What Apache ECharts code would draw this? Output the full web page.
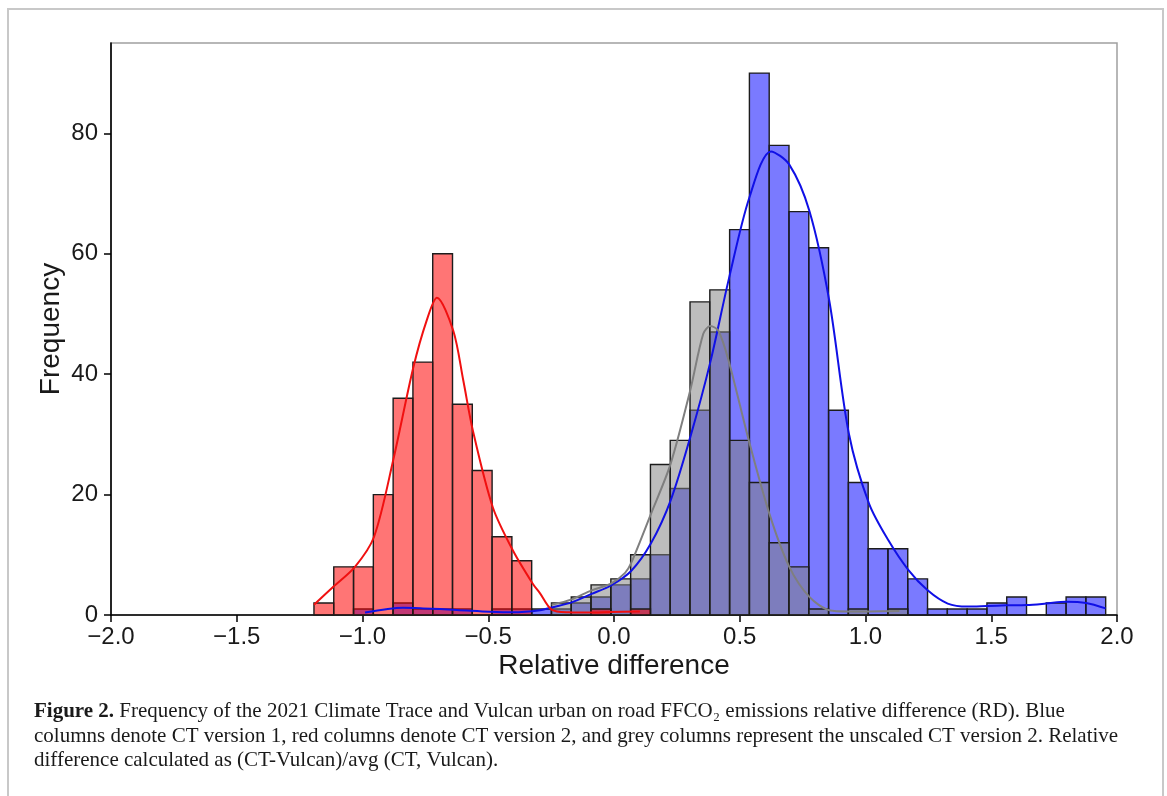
<!DOCTYPE html>
<html>
<head>
<meta charset="utf-8">
<script src="https://cdn.jsdelivr.net/npm/echarts@6/dist/echarts.min.js"></script>
<style>
  html, body { margin: 0; padding: 0; background: #fff; }
  #chart { width: 1167px; height: 796px; }
</style>
</head>
<body>
<div id="chart"></div>
<script>
// Shared histogram bins (40 bins of equal width)
const binStart = -1.193;
const binWidth = 0.0787;

// Counts per bin: CT version 1 (blue)
const countsCT1 = [0, 0, 1, 0, 2, 1, 1, 1, 0, 1,
                   1, 1, 1, 2, 3, 5, 6, 10, 21, 34,
                   47, 64, 90, 78, 67, 61, 34, 22, 11, 11,
                   6, 1, 1, 1, 2, 3, 0, 2, 3, 3];
// Counts per bin: CT version 2 (red)
const countsCT2 = [2, 8, 8, 20, 36, 42, 60, 35, 24, 13,
                   9, 0, 0, 0, 1, 0, 1, 0, 0, 0,
                   0, 0, 0, 0, 0, 0, 0, 0, 0, 0,
                   0, 0, 0, 0, 0, 0, 0, 0, 0, 0];
// Counts per bin: unscaled CT version 2 (grey)
const countsCT2Unscaled = [0, 0, 0, 0, 0, 0, 0, 0, 0, 0,
                           0, 0, 2, 3, 5, 6, 10, 25, 29, 52,
                           54, 29, 22, 12, 8, 1, 0, 1, 0, 1,
                           0, 0, 0, 0, 0, 0, 0, 0, 0, 0];

// Kernel density curves, in frequency units
const kdeCT1 = [[-0.990, 0.4], [-0.839, 1.2], [-0.759, 1.1], [-0.625, 0.85], [-0.493, 0.55],
                [-0.402, 0.45], [-0.294, 0.8], [-0.243, 1.3], [-0.168, 2.1], [-0.089, 3.5],
                [-0.012, 4.9], [0.068, 7.3], [0.147, 11.9], [0.225, 19.0], [0.303, 29.5],
                [0.383, 42.0], [0.456, 55.7], [0.538, 69.3], [0.624, 77.0], [0.697, 74.8],
                [0.777, 67.1], [0.856, 52.2], [0.934, 30.1], [1.014, 18.5], [1.091, 12.4],
                [1.170, 7.5], [1.247, 4.1], [1.327, 1.9], [1.406, 1.4], [1.484, 1.5],
                [1.561, 1.6], [1.641, 1.65], [1.718, 1.9], [1.797, 2.2], [1.877, 2.0],
                [1.955, 1.1]];
const kdeCT2 = [[-1.193, 1.7], [-1.116, 4.7], [-1.030, 8.0], [-0.954, 13.0], [-0.878, 25.7],
                [-0.798, 41.1], [-0.745, 48.9], [-0.704, 52.7], [-0.639, 47.2], [-0.599, 38.9],
                [-0.561, 30.6], [-0.482, 17.9], [-0.403, 10.8], [-0.323, 5.2], [-0.294, 3.6],
                [-0.248, 0.9], [-0.180, 0.45], [-0.095, 0.4], [-0.016, 0.5], [0.103, 0.6]];
const kdeCT2Unscaled = [[-0.248, 1.7], [-0.168, 2.6], [-0.089, 4.1], [-0.012, 5.2], [0.044, 7.0],
                        [0.068, 8.6], [0.147, 16.8], [0.225, 25.1], [0.303, 37.3], [0.355, 46.7],
                        [0.383, 48.0], [0.415, 47.2], [0.456, 42.2], [0.536, 29.0], [0.618, 16.8],
                        [0.697, 8.0], [0.777, 3.0], [0.856, 0.8], [0.930, 0.6], [1.018, 0.6],
                        [1.135, 0.65]];

// Axis ticks
const xTicks = [-2.0, -1.5, -1.0, -0.5, 0.0, 0.5, 1.0, 1.5, 2.0];
const yTicks = [0, 20, 40, 60, 80];

const SANS = '"Liberation Sans", Arial, Helvetica, sans-serif';
const SERIF = '"Liberation Serif", "Times New Roman", serif';
const CAPTION_SIZE = 21;

function histSeries(name, counts, fill, z) {
  const data = counts.map((c, i) => [binStart + i * binWidth, binStart + (i + 1) * binWidth, c]);
  return {
    type: 'custom',
    name: name,
    z: z,
    data: data,
    encode: { x: [0, 1], y: 2 },
    renderItem: function (params, api) {
      const c = api.value(2);
      if (!c) return null;
      const topLeft = api.coord([api.value(0), c]);
      const bottomRight = api.coord([api.value(1), 0]);
      return {
        type: 'rect',
        shape: {
          x: topLeft[0], y: topLeft[1],
          width: bottomRight[0] - topLeft[0],
          height: bottomRight[1] - topLeft[1]
        },
        style: { fill: fill, stroke: '#1c1c1c', lineWidth: 1.4 }
      };
    }
  };
}

function kdeSeries(name, points, color) {
  return {
    type: 'line',
    name: name,
    z: 6,
    data: points,
    smooth: 0.3,
    showSymbol: false,
    silent: true,
    lineStyle: { color: color, width: 2 }
  };
}

function captionLine(top, text) {
  return {
    type: 'text', left: 34, top: top, silent: true,
    style: {
      text: text,
      fontSize: CAPTION_SIZE, fontFamily: SERIF, fill: '#1a1a1a',
      rich: {
        b: { fontSize: CAPTION_SIZE, fontFamily: SERIF, fontWeight: 'bold', fill: '#1a1a1a' }
      }
    }
  };
}

const chart = echarts.init(document.getElementById('chart'), null, { renderer: 'canvas' });

chart.setOption({
  backgroundColor: '#ffffff',
  animation: false,
  grid: {
    left: 111, right: 50, top: 43, bottom: 181,
    show: true, borderColor: '#a0a0a0', borderWidth: 1.5, backgroundColor: 'transparent'
  },
  xAxis: {
    type: 'value',
    min: xTicks[0], max: xTicks[xTicks.length - 1], interval: 0.5,
    splitLine: { show: false },
    axisLine: { onZero: false, lineStyle: { color: '#000', width: 1.6 } },
    axisTick: { length: 7, lineStyle: { color: '#000', width: 1.5 } },
    axisLabel: {
      margin: 10, fontSize: 24, color: '#1a1a1a', fontFamily: SANS,
      formatter: v => v.toFixed(1).replace('-', '\u2212')
    },
    name: 'Relative difference',
    nameLocation: 'middle',
    nameGap: 37,
    nameMoveOverlap: false,
    nameTextStyle: { fontSize: 28, color: '#1a1a1a', fontFamily: SANS }
  },
  yAxis: {
    type: 'value',
    min: 0, max: 95, interval: 20,
    splitLine: { show: false },
    axisLine: { show: true, onZero: false, lineStyle: { color: '#000', width: 1.6 } },
    axisTick: { show: true, length: 7, customValues: yTicks, lineStyle: { color: '#000', width: 1.5 } },
    axisLabel: {
      margin: 13, fontSize: 24, color: '#1a1a1a', fontFamily: SANS,
      customValues: yTicks,
      formatter: v => (v % 20 === 0 ? String(v) : '')
    },
    name: 'Frequency',
    nameLocation: 'middle',
    nameGap: 46,
    nameRotate: 90,
    nameMoveOverlap: false,
    nameTextStyle: { fontSize: 28, color: '#1a1a1a', fontFamily: SANS }
  },
  series: [
    histSeries('CT version 1', countsCT1, 'rgba(0,0,255,0.52)', 2),
    histSeries('CT version 2 (unscaled)', countsCT2Unscaled, 'rgba(128,128,128,0.52)', 3),
    histSeries('CT version 2', countsCT2, 'rgba(255,0,0,0.54)', 4),
    kdeSeries('CT version 1 KDE', kdeCT1, '#1010e6'),
    kdeSeries('CT version 2 unscaled KDE', kdeCT2Unscaled, '#7f7f7f'),
    kdeSeries('CT version 2 KDE', kdeCT2, '#f01010')
  ],
  graphic: [
    {
      type: 'polyline', silent: true, z: 0,
      shape: { points: [[8, 796], [8, 9], [1163, 9], [1163, 796]] },
      style: { fill: null, stroke: '#c8c8c8', lineWidth: 2 }
    },
    captionLine(701, '{b|Figure 2.} Frequency of the 2021 Climate Trace and Vulcan urban on road FFCO\u2082 emissions relative difference (RD). Blue'),
    captionLine(725.5, 'columns denote CT version 1, red columns denote CT version 2, and grey columns represent the unscaled CT version 2. Relative'),
    captionLine(750, 'difference calculated as (CT-Vulcan)/avg (CT, Vulcan).')
  ]
});
</script>
</body>
</html>
